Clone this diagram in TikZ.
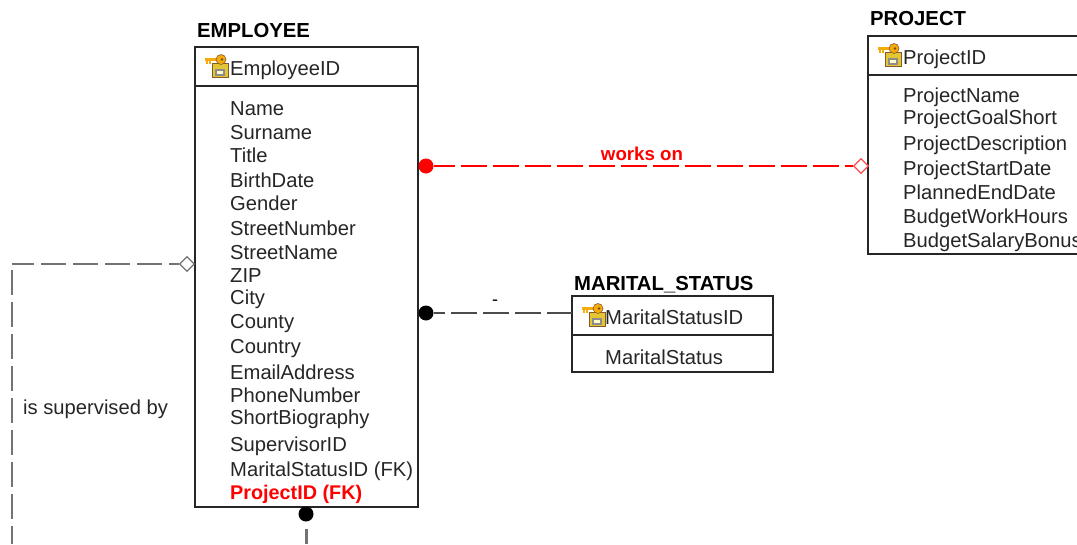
\documentclass[tikz,border=0pt]{standalone}
\usepackage{fontspec}
\setmainfont{Liberation Sans}
\usetikzlibrary{shapes.geometric,positioning}
\tikzset{
  entbox/.style={draw=black!85,line width=1.5pt,fill=white,rectangle,inner sep=0pt,outer sep=0pt,anchor=north west},
  enttitle/.style={anchor=base west,inner sep=0pt,font=\fontsize{20.3}{22}\selectfont\bfseries},
  attr/.style={anchor=base west,inner sep=0pt,text=black!85,font=\fontsize{20.2}{22}\selectfont},
  reldash/.style={line width=1.6pt,dash pattern=on 26pt off 6pt},
  supdash/.style={line width=2.4pt,black!55,dash pattern=on 25pt off 7pt},
  dotend/.style={circle,fill=#1,inner sep=0pt,minimum size=15pt},
  diaend/.style={diamond,draw=#1,fill=white,line width=1.3pt,inner sep=0pt,minimum size=15pt},
  keyicon/.pic={
    \fill[yellow!55!brown,draw=brown!70!black,line width=.6pt] (-4,-3) rectangle (12,11);
    \fill[black!45] (-1,2) rectangle (9,9);
    \fill[white!80!yellow] (1,4) rectangle (7,7);
    \draw[orange!60!yellow!85!brown,line width=2.5pt] (-11,-7) -- (2,-7);
    \draw[orange!60!yellow!85!brown,line width=1.8pt] (-9,-7) -- (-9,-3) (-6,-7) -- (-6,-3);
    \fill[orange!60!yellow!85!brown,draw=brown!70!black,line width=.6pt] (5,-7) circle (5);
    \fill[brown!60!black] (6,-7) circle (1.3);
  },
}
\begin{document}
\begin{tikzpicture}[x=1pt,y=-1pt]
\useasboundingbox (0,0) rectangle (1077,544);
\clip (0,0) rectangle (1077,544);

\node[enttitle] (empTitle) at (197,37) {EMPLOYEE};
\node[entbox,minimum width=223pt,minimum height=39pt] (empHead) at (195,47) {};
\node[entbox,minimum width=223pt,minimum height=421pt] (empBody) at (empHead.south west) {};
\pic at ([xshift=21pt]empHead.west) {keyicon};
\node[attr] (empKey) at (230,75) {EmployeeID};
\foreach \ypos/\txt [count=\i] in {115/Name,139/Surname,162/Title,187/BirthDate,210/Gender,
  235/StreetNumber,259/StreetName,282/ZIP,304/City,328/County,353/Country,379/EmailAddress,
  402/PhoneNumber,424/ShortBiography,451/SupervisorID,476/MaritalStatusID (FK)}
  \node[attr] (emp-\i) at (230,\ypos) {\txt};
\node[attr,text=red,font=\fontsize{19.8}{22}\selectfont\bfseries] (emp-17) at (230,499) {ProjectID (FK)};

\node[enttitle] (proTitle) at (870,25) {PROJECT};
\node[entbox,minimum width=240pt,minimum height=39pt] (proHead) at (868,36) {};
\node[entbox,minimum width=240pt,minimum height=179pt] (proBody) at (proHead.south west) {};
\pic at ([xshift=21pt]proHead.west) {keyicon};
\node[attr] (proKey) at (903,64) {ProjectID};
\foreach \ypos/\txt [count=\i] in {102/ProjectName,124/ProjectGoalShort,150/ProjectDescription,
  175/ProjectStartDate,199/PlannedEndDate,223/BudgetWorkHours,247/BudgetSalaryBonus}
  \node[attr] (pro-\i) at (903,\ypos) {\txt};

\node[enttitle] (marTitle) at (574,290) {MARITAL\_STATUS};
\node[entbox,minimum width=201pt,minimum height=39pt] (marHead) at (572,296) {};
\node[entbox,minimum width=201pt,minimum height=37pt] (marBody) at (marHead.south west) {};
\pic at ([xshift=21pt]marHead.west) {keyicon};
\node[attr] (marKey) at (605,324) {MaritalStatusID};
\node[attr] (mar-1) at (605,364) {MaritalStatus};

\node[dotend=red] (worksDot) at (426,166) {};
\node[diaend=red!70!white] (worksDia) at (861,166) {};
\draw[reldash,red,dash phase=5pt] (worksDot) -- (worksDia);
\node[inner sep=0pt,text=red,font=\fontsize{18.7}{20}\selectfont\bfseries] (worksLbl) at (642,154) {works on};

\node[dotend=black] (marDot) at (426,313) {};
\coordinate (marEnd) at (marHead.west |- marDot);
\draw[reldash,black!70,dash phase=14.5pt] (marDot) -- (marEnd);
\node[inner sep=0pt,font=\fontsize{18}{20}\selectfont] (marLbl) at (495,303) {-};

\node[diaend=black!55] (supDia) at (187,264) {};
\node[dotend=black] (supDot) at (306,514) {};
\coordinate (supCorner) at (12,264);
\coordinate (supTurn) at (12,270);
\coordinate (supEnd) at (12,544);
\coordinate (supBot) at (306,544);
\draw[supdash,dash phase=15pt] (supDia) -- (supCorner);
\draw[supdash,line width=2pt] (supTurn) -- (supEnd);
\draw[supdash,line width=3pt,dash phase=25pt] (supDot) -- (supBot);
\node[attr] (supLbl) at (23,414) {is supervised by};
\end{tikzpicture}
\end{document}
